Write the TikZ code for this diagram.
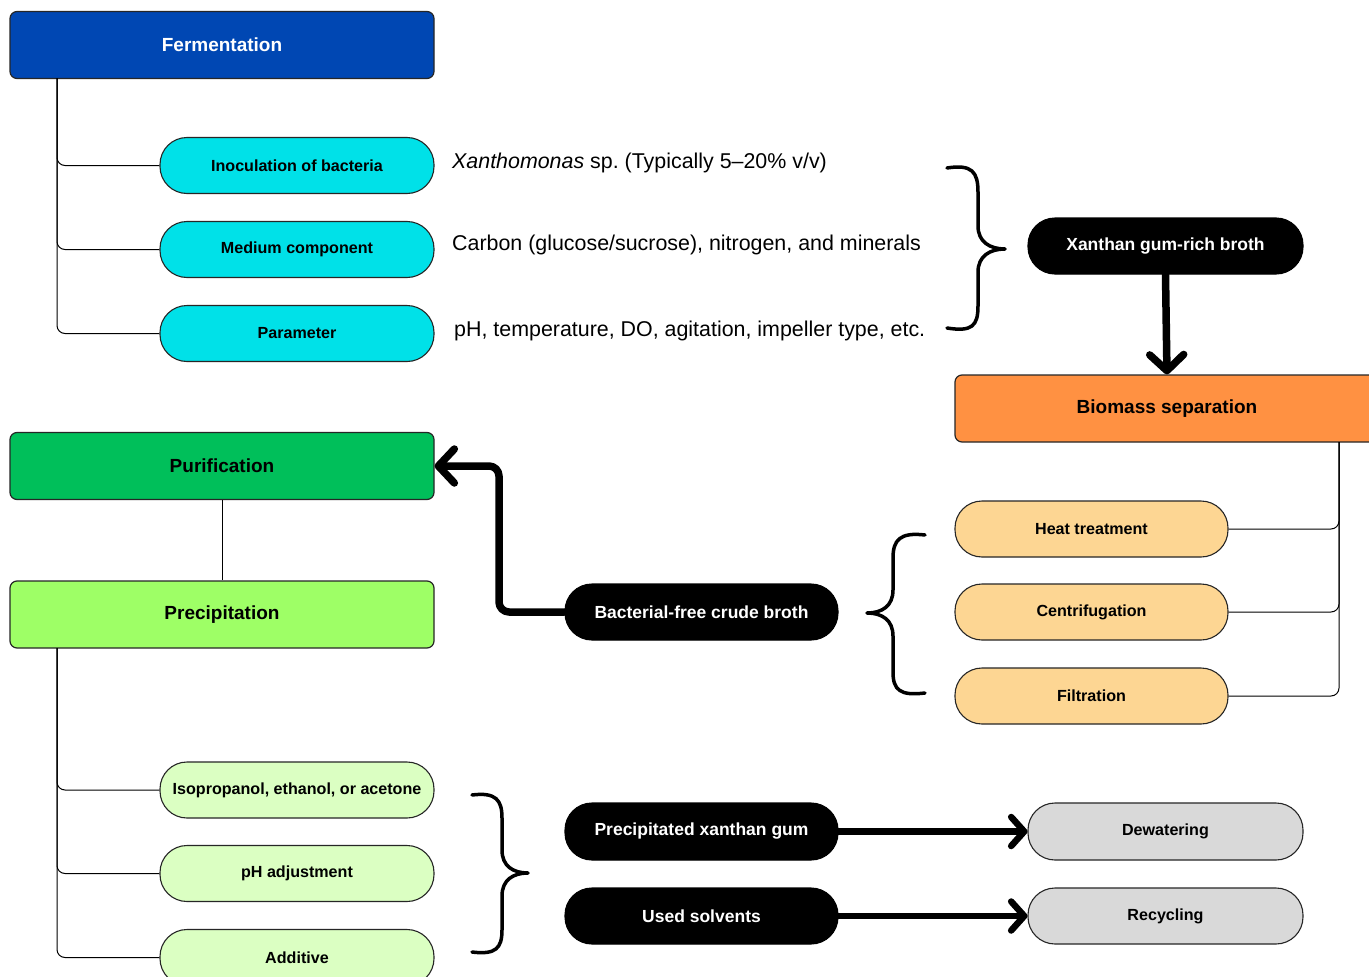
\documentclass[tikz,border=0pt]{standalone}
\usepackage{fontspec}
\setmainfont{Liberation Sans}
\usetikzlibrary{arrows.meta}
\frenchspacing
\definecolor{fermblue}{HTML}{0047B3}
\definecolor{cyanfill}{HTML}{00E1E8}
\definecolor{orangefill}{HTML}{FF9142}
\definecolor{purgreen}{HTML}{00BF5A}
\definecolor{precgreen}{HTML}{9EFF66}
\definecolor{lightgreen}{HTML}{DBFFC2}
\definecolor{tanfill}{HTML}{FDD693}
\definecolor{grayfill}{HTML}{D9D9D9}
\tikzset{
  hdr/.style={draw=black!85, line width=1.2pt, rounded corners=7pt, minimum width=424pt, minimum height=67pt, inner sep=0pt, font=\fontsize{19}{23}\selectfont\bfseries},
  pill/.style={draw=black!85, line width=1.1pt, rounded corners=27pt, minimum width=274pt, minimum height=56pt, inner sep=0pt, font=\fontsize{16.1}{19}\selectfont\bfseries},
  blackpill/.style={pill, draw=black, fill=black, text=white, font=\fontsize{17.5}{21}\selectfont\bfseries},
  note/.style={anchor=west, inner sep=0pt, font=\fontsize{21.4}{25}\selectfont},
  tree/.style={line width=1pt, rounded corners=8pt},
  bigarrow/.style={line width=7.5pt, line cap=round, line join=round, -{Straight Barb[length=16pt,width=34pt,round]}},
  smallarrow/.style={line width=6.5pt, line cap=round, line join=round, -{Straight Barb[length=13pt,width=29pt,round]}},
  bracepath/.style={line width=3.5pt, line cap=round, line join=round}
}
\begin{document}
\begin{tikzpicture}[x=1pt,y=-1pt]
\useasboundingbox (0,0) rectangle (1369,977);
\fill[white] (0,0) rectangle (1369,977);

% Fermentation block
\node[hdr, fill=fermblue, text=white] (ferm) at (222,45) {Fermentation};
\node[pill, fill=cyanfill] (inoc) at (297,165.5) {Inoculation of bacteria};
\node[pill, fill=cyanfill] (medium) at (297,249.5) {Medium component};
\node[pill, fill=cyanfill] (param) at (297,333.5) {Parameter};
\coordinate (f0) at (57,78);
\draw[tree] (f0) |- (inoc.west);
\draw[tree] (f0) |- (medium.west);
\draw[tree] (f0) |- (param.west);

\node[note] (t1) at (452,163) {\textit{Xanthomonas} sp. (Typically 5–20\% v/v)};
\node[note] (t2) at (452,245) {Carbon (glucose/sucrose), nitrogen, and minerals};
\node[note] (t3) at (454,331) {pH, temperature, DO, agitation, impeller type, etc.};

% top brace
\draw[bracepath] (947,168) .. controls (972,164) and (978,172) .. (978,192) -- (978,226) .. controls (978,242) and (990,249) .. (1005,249) .. controls (990,249) and (978,256) .. (978,272) -- (978,306) .. controls (978,326) and (972,332) .. (947,328);

\node[blackpill, minimum width=275pt] (xrich) at (1165.5,246) {Xanthan gum-rich broth};

% Biomass separation
\node[hdr, fill=orangefill, minimum width=424pt] (bio) at (1167,408.5) {Biomass separation};
\draw[bigarrow] (xrich.south) -- (bio.north);

\node[pill, fill=tanfill, minimum width=273pt] (heat) at (1091.5,529) {Heat treatment};
\node[pill, fill=tanfill, minimum width=273pt] (centri) at (1091.5,612) {Centrifugation};
\node[pill, fill=tanfill, minimum width=273pt] (filt) at (1091.5,696) {Filtration};
\coordinate (b0) at (1339,442);
\draw[tree] (b0) |- (heat.east);
\draw[tree] (b0) |- (centri.east);
\draw[tree] (b0) |- (filt.east);

% left brace
\draw[bracepath] (925,535) .. controls (900,532) and (893,540) .. (893,558) -- (893,590) .. controls (893,606) and (882,613) .. (867,613) .. controls (882,613) and (893,620) .. (893,636) -- (893,672) .. controls (893,690) and (900,696) .. (925,693);

\node[blackpill, minimum width=273pt] (bact) at (701.5,612) {Bacterial-free crude broth};

% Purification / Precipitation
\node[hdr, fill=purgreen] (pur) at (222,466) {Purification};
\node[hdr, fill=precgreen] (prec) at (222,614.5) {Precipitation};
\draw[line width=1pt] (pur) -- (prec);

\coordinate (c1) at (499,466);
\draw[bigarrow, rounded corners=10pt] (bact.west) -| (c1) -- (pur.east);

\node[pill, fill=lightgreen] (iso) at (297,790) {Isopropanol, ethanol, or acetone};
\node[pill, fill=lightgreen] (phadj) at (297,873.5) {pH adjustment};
\node[pill, fill=lightgreen] (add) at (297,957.5) {Additive};
\coordinate (p0) at (57,648);
\draw[tree] (p0) |- (iso.west);
\draw[tree] (p0) |- (phadj.west);
\draw[tree] (p0) |- (add.west);

% bottom brace
\draw[bracepath] (472,795) .. controls (496,792) and (502,800) .. (502,818) -- (502,850) .. controls (502,866) and (513,873) .. (528,873) .. controls (513,873) and (502,880) .. (502,896) -- (502,930) .. controls (502,948) and (496,955) .. (472,952);

\node[blackpill, minimum width=273pt, minimum height=57pt] (pxg) at (701.5,831.5) {Precipitated xanthan gum};
\node[blackpill, minimum width=273pt] (used) at (701.5,916) {Used solvents};
\node[pill, fill=grayfill, minimum width=275pt, minimum height=57pt] (dew) at (1165.5,831.5) {Dewatering};
\node[pill, fill=grayfill, minimum width=275pt] (rec) at (1165.5,916) {Recycling};

\draw[smallarrow] (pxg.east) -- (dew.west);
\draw[smallarrow] (used.east) -- (rec.west);
\end{tikzpicture}
\end{document}
